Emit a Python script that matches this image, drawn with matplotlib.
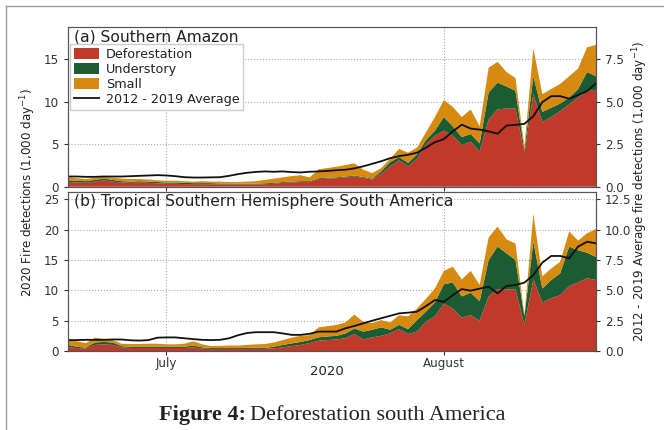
import numpy as np
import pandas as pd
import matplotlib
matplotlib.use('Agg')
import matplotlib.pyplot as plt
from matplotlib.lines import Line2D

plt.rcParams['font.family'] = ['DejaVu Sans']

# daily values, 20 June - 18 August 2020 (1,000 detections per day)
dates = pd.date_range('2020-06-20', '2020-08-18', freq='D')

# (a) Southern Amazon
a_defor = [0.55, 0.5, 0.45, 0.6, 0.75, 0.6, 0.5, 0.45, 0.5, 0.45, 0.4, 0.35, 0.35, 0.3, 0.3,
           0.3, 0.3, 0.25, 0.25, 0.25, 0.25, 0.25, 0.3, 0.35, 0.45, 0.5, 0.55, 0.55, 0.9, 0.95,
           1.0, 1.1, 1.2, 1.05, 0.85, 1.5, 2.4, 3.1, 2.4, 3.3, 5.0, 6.0, 6.6, 6.0, 4.9,
           5.3, 4.15, 7.9, 9.1, 9.2, 9.2, 3.95, 10.9, 7.6, 8.2, 8.9, 9.7, 10.5, 11.3, 11.3]
a_under = [0.2, 0.2, 0.2, 0.2, 0.2, 0.2, 0.15, 0.15, 0.15, 0.15, 0.15, 0.15, 0.15, 0.15, 0.12,
           0.12, 0.12, 0.12, 0.12, 0.1, 0.1, 0.1, 0.1, 0.1, 0.1, 0.1, 0.1, 0.1, 0.1, 0.1,
           0.1, 0.1, 0.1, 0.1, 0.1, 0.3, 0.5, 0.4, 0.4, 0.5, 0.5, 0.6, 1.6, 1.1, 0.95,
           0.9, 0.95, 3.2, 3.15, 2.6, 2.1, 0.35, 2.1, 1.2, 1.1, 0.9, 0.8, 1.0, 2.2, 1.7]
a_small = [0.35, 0.3, 0.25, 0.25, 0.2, 0.25, 0.3, 0.3, 0.25, 0.25, 0.2, 0.2, 0.2, 0.2, 0.18,
           0.23, 0.18, 0.23, 0.18, 0.2, 0.25, 0.3, 0.4, 0.5, 0.55, 0.65, 0.7, 0.45, 1.05, 1.15,
           1.25, 1.35, 1.45, 0.85, 0.65, 0.4, 0.4, 0.95, 1.2, 0.8, 0.9, 1.6, 2.0, 2.3, 2.35,
           2.9, 2.0, 2.9, 2.45, 1.7, 1.5, 0.4, 3.3, 2.1, 2.2, 2.3, 2.5, 2.4, 2.9, 3.7]
a_avg = [0.6, 0.6, 0.58, 0.58, 0.6, 0.6, 0.6, 0.62, 0.64, 0.66, 0.68, 0.66, 0.62, 0.56, 0.54,
         0.54, 0.55, 0.56, 0.64, 0.74, 0.82, 0.87, 0.9, 0.88, 0.9, 0.86, 0.84, 0.88, 0.9, 0.93,
         0.97, 1.0, 1.08, 1.2, 1.35, 1.5, 1.68, 1.8, 1.88, 2.0, 2.3, 2.62, 2.8, 3.26, 3.65,
         3.42, 3.36, 3.26, 3.12, 3.6, 3.64, 3.7, 4.15, 4.98, 5.33, 5.33, 5.18, 5.4, 5.63, 6.08]

# (b) Tropical Southern Hemisphere South America
b_defor = [0.6, 0.5, 0.4, 1.0, 1.1, 1.0, 0.6, 0.5, 0.5, 0.5, 0.5, 0.5, 0.5, 0.5, 0.6,
           0.4, 0.35, 0.35, 0.35, 0.35, 0.35, 0.35, 0.35, 0.45, 0.6, 0.8, 1.0, 1.3, 1.7, 1.8,
           1.9, 2.1, 2.8, 1.9, 2.25, 2.5, 2.9, 3.6, 2.8, 3.2, 4.8, 5.7, 7.8, 7.0, 5.5,
           5.9, 5.0, 9.0, 10.2, 10.1, 10.2, 4.3, 11.8, 8.0, 8.7, 9.2, 10.7, 11.3, 12.0, 11.7]
b_under = [0.4, 0.2, 0.15, 0.4, 0.4, 0.4, 0.2, 0.2, 0.2, 0.2, 0.2, 0.2, 0.2, 0.2, 0.3,
           0.2, 0.15, 0.15, 0.15, 0.15, 0.15, 0.2, 0.15, 0.25, 0.4, 0.45, 0.5, 0.5, 0.55, 0.6,
           0.6, 0.8, 0.9, 1.3, 1.25, 1.4, 0.6, 0.7, 0.8, 1.9, 1.7, 2.3, 3.2, 4.3, 3.5,
           3.7, 3.2, 6.0, 7.0, 6.0, 4.8, 1.4, 6.2, 2.3, 3.0, 3.6, 6.5, 5.3, 4.2, 3.8]
b_small = [0.8, 0.9, 0.75, 0.8, 0.5, 0.4, 0.4, 0.45, 0.45, 0.5, 0.5, 0.4, 0.4, 0.5, 0.7,
           0.5, 0.3, 0.35, 0.4, 0.4, 0.5, 0.55, 0.65, 0.7, 0.8, 0.95, 1.0, 0.8, 1.65, 1.7,
           1.8, 1.8, 2.3, 1.6, 1.1, 1.2, 1.2, 1.6, 2.1, 1.9, 2.1, 2.3, 2.2, 2.6, 2.8,
           3.6, 2.7, 3.7, 3.3, 2.3, 2.7, 0.2, 4.6, 2.0, 1.9, 1.9, 2.5, 1.6, 3.2, 4.6]
b_avg = [0.9, 0.9, 0.92, 0.92, 0.92, 0.95, 0.95, 0.88, 0.86, 0.9, 1.1, 1.12, 1.12, 1.05, 0.98,
         0.92, 0.9, 0.92, 1.05, 1.3, 1.48, 1.55, 1.55, 1.55, 1.45, 1.33, 1.33, 1.42, 1.6, 1.6,
         1.6, 1.87, 2.06, 2.28, 2.5, 2.7, 2.9, 3.1, 3.16, 3.24, 3.7, 4.2, 4.05, 4.6, 5.1,
         4.97, 5.14, 5.3, 4.75, 5.36, 5.44, 5.63, 6.26, 7.28, 7.83, 7.83, 7.64, 8.6, 9.0, 8.87]

labels = ['Deforestation', 'Understory', 'Small']
colors = ['#c0392b', '#1b5c33', '#d68a10']
txt = '#333333'
spine = '#555555'

fig = plt.figure(figsize=(6.64, 4.30), dpi=100)
ax_a = fig.add_axes([0.1024, 0.5658, 0.7952, 0.3714])
ax_b = fig.add_axes([0.1024, 0.1837, 0.7952, 0.3698])


def panel(ax, defor, under, small, avg, top, yticks, rticks, title):
    ax.stackplot(dates, defor, under, small, colors=colors, labels=labels, lw=0)
    ax.set_xlim(dates[0], dates[-1])
    ax.set_ylim(0, top)
    ax.set_yticks(yticks)
    ax.set_xticks([pd.Timestamp('2020-07-01'), pd.Timestamp('2020-08-01')])
    ax.set_xticklabels(['July', 'August'])
    ax.set_axisbelow(True)
    ax.grid(True, ls=':', color='#aaaaaa', lw=0.8)
    ax.tick_params(direction='out', length=3, labelsize=8.6, colors=txt)
    ax.tick_params(axis='x', pad=1.5)
    ax.text(0.012, 0.985, title, transform=ax.transAxes, va='top', ha='left',
            fontsize=11.2, color='#222222')

    ax2 = ax.twinx()
    ax2.plot(dates, avg, color='#111111', lw=1.3, label='2012 - 2019 Average')
    ax2.set_ylim(0, top / 2)
    ax2.set_yticks(rticks)
    ax2.tick_params(direction='out', length=3, labelsize=8.6, colors=txt)
    for a in (ax, ax2):
        for s in a.spines.values():
            s.set_color(spine)
    return ax2


ax2_a = panel(ax_a, a_defor, a_under, a_small, a_avg, 18.8,
              [0, 5, 10, 15], [0, 2.5, 5, 7.5], '(a) Southern Amazon')
ax2_b = panel(ax_b, b_defor, b_under, b_small, b_avg, 26.2,
              [0, 5, 10, 15, 20, 25], [0, 2.5, 5, 7.5, 10, 12.5],
              '(b) Tropical Southern Hemisphere South America')
ax_a.tick_params(axis='x', labelbottom=False)

h1, l1 = ax_a.get_legend_handles_labels()
h2, l2 = ax2_a.get_legend_handles_labels()
leg = ax2_a.legend(h1 + h2, l1 + l2, loc='upper left', bbox_to_anchor=(0.004, 0.895),
                   borderaxespad=0, fontsize=9.2, handlelength=2.0, handleheight=1.0,
                   labelspacing=0.15, borderpad=0.3, handletextpad=0.5,
                   fancybox=False, framealpha=1, edgecolor='#cccccc')
for t in leg.get_texts():
    t.set_color('#222222')

fig.text(0.042, 0.551, '2020 Fire detections (1,000 day$^{-1}$)', rotation=90,
         ha='center', va='center', fontsize=8.6, color='#222222')
fig.text(0.964, 0.555, '2012 - 2019 Average fire detections (1,000 day$^{-1}$)',
         rotation=90, ha='center', va='center', fontsize=8.6, color='#222222')
fig.text(0.493, 0.135, '2020', ha='center', va='center', fontsize=9.5, color='#222222')

# caption
fig.text(0.370, 0.0233, 'Figure 4:', ha='right', va='baseline', fontsize=16,
         family='Liberation Serif', weight='bold', color='#222222')
fig.text(0.376, 0.0233, 'Deforestation south America', ha='left', va='baseline',
         fontsize=16, family='Liberation Serif', color='#222222')

# page frame
fig.add_artist(Line2D([0.009, 1.0], [0.986, 0.986], color='#999999', lw=1))
fig.add_artist(Line2D([0.009, 0.009], [0.0, 0.986], color='#999999', lw=1))

fig.savefig('out.png', dpi=100)
